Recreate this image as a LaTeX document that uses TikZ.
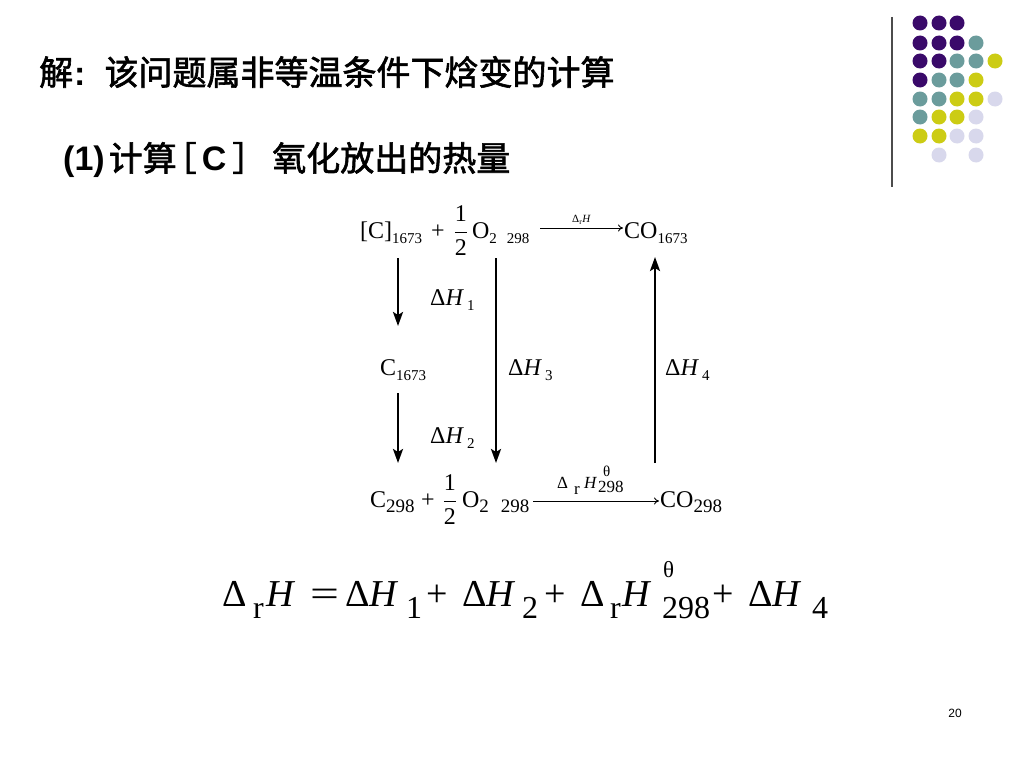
\documentclass[tikz,border=0pt]{standalone}
\usepackage{fontspec}
\usepackage{graphicx}
\setmainfont{Liberation Serif}
\newfontfamily\cjk{Noto Sans CJK SC}[FakeBold=1.8]
\newfontfamily\sansf{Liberation Sans}
\usetikzlibrary{arrows.meta}
\definecolor{dpurple}{HTML}{3A0A6A}
\definecolor{dteal}{HTML}{6B9C9C}
\definecolor{dyellow}{HTML}{CCCC14}
\definecolor{dlav}{HTML}{D8D8EC}
% positioned pieces
\newcommand\at[2]{\rlap{\hspace*{#1pt}#2}}
% small subscripts (top row, labels)
\newcommand\tsub[1]{\raisebox{-5pt}{\fontsize{15}{15}\selectfont #1}}
% larger subscripts (bottom row)
\newcommand\bsub[1]{\raisebox{-5pt}{\fontsize{19}{19}\selectfont #1}}
% equation sub/superscripts
\newcommand\es[1]{\raisebox{-12pt}{\fontsize{32}{32}\selectfont #1}}
\newcommand\et[1]{\raisebox{29pt}{\fontsize{23}{23}\selectfont #1}}
\newcommand\half{$\displaystyle\frac{\mbox{1}}{\mbox{2}}$}
\tikzset{
  chem/.style={inner sep=0pt, anchor=base west, font=\fontsize{24}{28}\selectfont},
  varr/.style={line width=2.4pt, -{Stealth[length=14pt,width=10pt,inset=3pt]}},
  harr/.style={line width=0.9pt, -{To[length=5pt,width=7pt]}},
  dot/.style={circle, inner sep=0pt, minimum size=15pt},
  cjktext/.style={inner sep=0pt, anchor=west, font=\cjk\fontsize{34}{38}\selectfont},
}
\begin{document}
\begin{tikzpicture}[x=1pt,y=-1pt]
\useasboundingbox[fill=white] (0,0) rectangle (1024,768);
% decoration
\draw[line width=1.3pt, black!70] (892,17) -- (892,187);
\foreach \x/\y/\c in {
 920/23/dpurple,939/23/dpurple,957/23/dpurple,
 920/43/dpurple,939/43/dpurple,957/43/dpurple,976/43/dteal,
 920/61/dpurple,939/61/dpurple,957/61/dteal,976/61/dteal,995/61/dyellow,
 920/80/dpurple,939/80/dteal,957/80/dteal,976/80/dyellow,
 920/99/dteal,939/99/dteal,957/99/dyellow,976/99/dyellow,995/99/dlav,
 920/117/dteal,939/117/dyellow,957/117/dyellow,976/117/dlav,
 920/136/dyellow,939/136/dyellow,957/136/dlav,976/136/dlav,
 939/155/dlav,976/155/dlav}
 \node[dot, fill=\c] at (\x,\y) {};
% titles
\node[cjktext] (title) at (39,72) {解\hspace{1pt}{\sansf\bfseries:}\hspace{19pt}该问题属非等温条件下焓变的计算};
\node[cjktext] (sub) at (63,160) {{\sansf\bfseries (1)}\hspace{4pt}计算\hspace{-14pt}［\hspace{5pt}{\sansf\bfseries C}\hspace{6pt}］\hspace{6pt}氧化放出的热量};
% top row
\node[chem] (ctop) at (360,238) {[C]\tsub{1673}};
\node[chem] (otop) at (431,238) {+\hspace{9pt}\half\hspace{4pt}O\tsub{2\hspace{10pt}298}};
\node[chem] (cotop) at (624,238) {CO\tsub{1673}};
% middle
\node[chem] (cmid) at (380,375) {C\tsub{1673}};
\node[chem] (dh1) at (430,305) {Δ\textit{H}\hspace{3pt}\tsub{1}};
\node[chem] (dh2) at (430,443) {Δ\textit{H}\hspace{3pt}\tsub{2}};
\node[chem] (dh3) at (508,375) {Δ\textit{H}\hspace{3pt}\tsub{3}};
\node[chem] (dh4) at (665,375) {Δ\textit{H}\hspace{3pt}\tsub{4}};
% bottom row
\node[chem] (cbot) at (370,507) {C\bsub{298}};
\node[chem] (obot) at (421,507) {+\hspace{8pt}\half\hspace{5pt}O\bsub{2\hspace{12pt}298}};
\node[chem] (cobot) at (660,507) {CO\bsub{298}};
% arrow ends
\coordinate (a1s) at (398,258); \coordinate (a1e) at (398,326);
\coordinate (a2s) at (398,393); \coordinate (a2e) at (398,463);
\coordinate (a3s) at (496,258); \coordinate (a3e) at (496,463);
\coordinate (a4s) at (655,463); \coordinate (a4e) at (655,257);
\coordinate (h1s) at (540,228); \coordinate (h1e) at (623,228);
\coordinate (h2s) at (533,501); \coordinate (h2e) at (659,501);
\draw[varr] (a1s) -- (a1e);
\draw[varr] (a2s) -- (a2e);
\draw[varr] (a3s) -- (a3e);
\draw[varr] (a4s) -- (a4e);
\draw[harr] (h1s) -- (h1e) node[midway, above=3pt, inner sep=0pt, font=\fontsize{11}{12}\selectfont] (l1) {Δ\textsubscript{r}\textit{H}};
\node[inner sep=0pt, anchor=base west, font=\fontsize{17}{18}\selectfont] (l2) at (557,488)
 {\at{0}{Δ}\at{17}{\raisebox{-6pt}{r}}\at{27}{\textit{H}}\at{46}{\raisebox{12pt}{\fontsize{15}{15}\selectfont θ}}\at{41}{\raisebox{-4pt}{298}}\hspace*{72pt}};
\draw[harr] (h2s) -- (h2e);
% equation
\node[inner sep=0pt, anchor=base west, font=\fontsize{38}{44}\selectfont] (eq) at (222,606)
 {\at{0}{Δ}\at{31}{\es{r}}\at{44}{\textit{H}}\at{88}{\scalebox{1.35}[1]{=}}\at{123}{Δ}\at{147}{\textit{H}}\at{184}{\es{1}}\at{204}{+}\at{240}{Δ}\at{264}{\textit{H}}\at{300}{\es{2}}\at{322}{+}\at{358}{Δ}\at{388}{\es{r}}\at{400}{\textit{H}}\at{441}{\et{θ}}\at{440}{\es{298}}\at{490}{+}\at{526}{Δ}\at{550}{\textit{H}}\at{590}{\es{4}}\hspace*{603pt}};
% page number
\node[inner sep=0pt, font=\sansf\fontsize{12}{14}\selectfont] (pg) at (955,713) {20};
\end{tikzpicture}
\end{document}
